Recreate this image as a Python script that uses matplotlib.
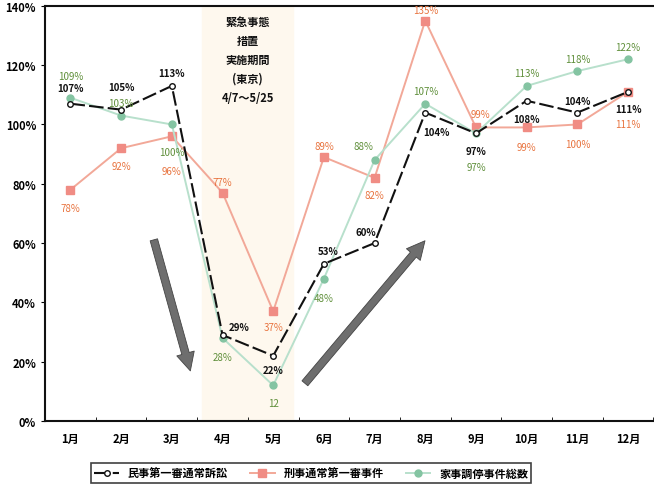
import numpy as np
import matplotlib
matplotlib.use('Agg')
import matplotlib.pyplot as plt
from matplotlib.ticker import MultipleLocator, FuncFormatter

plt.rcParams['font.family'] = ['Noto Sans CJK JP', 'DejaVu Sans']

months = ['1月', '2月', '3月', '4月', '5月', '6月', '7月', '8月', '9月', '10月', '11月', '12月']
civil = [107, 105, 113, 29, 22, 53, 60, 104, 97, 108, 104, 111]
criminal = [78, 92, 96, 77, 37, 89, 82, 135, 99, 99, 100, 111]
family = [109, 103, 100, 28, 12, 48, 88, 107, 97, 113, 118, 122]

civil_name = '民事第一審通常訴訟'
criminal_name = '刑事通常第一審事件'
family_name = '家事調停事件総数'

civil_labels = ['107%', '105%', '113%', '29%', '22%', '53%', '60%', '104%', '97%', '108%', '104%', '111%']
criminal_labels = ['78%', '92%', '96%', '77%', '37%', '89%', '82%', '135%', '99%', '99%', '100%', '111%']
family_labels = ['109%', '103%', '100%', '28%', '12', '48%', '88%', '107%', '97%', '113%', '118%', '122%']

# label offsets in points (dx, dy)
civil_off = [(0, 11), (0, 16), (0, 9), (12, 6), (0, -10), (3, 9), (-6, 8), (8, -14), (0, -13), (0, -13), (0, 8), (0, -12)]
criminal_off = [(0, -13), (0, -13), (0, -25), (0, 8), (0, -11), (0, 8), (0, -12), (0, 8), (3, 10), (0, -14), (0, -14), (0, -23)]
family_off = [(0, 16), (0, 9), (0, -20), (0, -14), (0, -13), (0, -14), (-8, 10), (0, 9), (0, -24), (0, 9), (0, 9), (0, 9)]

black = '#111111'
red_line = '#f2a898'
red_mark = '#f08c84'
red_text = '#e8733e'
green_line = '#b8e0cc'
green_mark = '#84c4a2'
green_text = '#5f8f3a'

fig = plt.figure(figsize=(6.54, 4.89), dpi=100)
ax = fig.add_axes([0.069, 0.137, 0.93, 0.849])

x = np.arange(len(months))

ax.axvspan(2.6, 4.4, color='#fef8ee', zorder=0)

ax.plot(x, criminal, color=red_line, lw=1.4, marker='s', ms=6, mfc=red_mark, mec=red_mark,
        label=criminal_name, zorder=2)
ax.plot(x, family, color=green_line, lw=1.4, marker='o', ms=5, mfc=green_mark, mec=green_mark,
        label=family_name, zorder=3)
ax.plot(x, civil, color=black, lw=1.5, ls=(0, (7, 2)), marker='o', ms=4, mfc='white', mec=black,
        label=civil_name, zorder=4)

for i in range(len(months)):
    ax.annotate(civil_labels[i], (x[i], civil[i]), xytext=civil_off[i], textcoords='offset points',
                ha='center', va='center', fontsize=7, fontweight='bold', color=black, zorder=6)
    ax.annotate(criminal_labels[i], (x[i], criminal[i]), xytext=criminal_off[i], textcoords='offset points',
                ha='center', va='center', fontsize=7, color=red_text, zorder=6)
    ax.annotate(family_labels[i], (x[i], family[i]), xytext=family_off[i], textcoords='offset points',
                ha='center', va='center', fontsize=7, color=green_text, zorder=6)

# trend arrows
arrow_style = dict(arrowstyle='simple,head_width=1.3,head_length=1.3,tail_width=0.55',
                   color='#6e6e6e', ec='#444444', lw=0.6)
ax.annotate('', xy=(2.38, 16), xytext=(1.63, 62), arrowprops=arrow_style, zorder=5)
ax.annotate('', xy=(7.03, 61.5), xytext=(4.59, 12), arrowprops=arrow_style, zorder=5)

ax.text(3.5, 122, '緊急事態\n措置\n実施期間\n(東京)\n4/7～5/25', ha='center', va='center',
        fontsize=8, fontweight='bold', linespacing=1.6, color=black, zorder=6)

ax.set_xlim(-0.5, 11.5)
ax.set_ylim(0, 140)
ax.set_xticks(x)
ax.set_xticklabels(months, fontsize=8, fontweight='bold')
ax.set_xticks(np.arange(-0.5, 12, 1), minor=True)
ax.tick_params(axis='x', which='major', length=0, pad=8)
ax.tick_params(axis='x', which='minor', length=3, direction='in')
ax.yaxis.set_major_locator(MultipleLocator(20))
ax.yaxis.set_major_formatter(FuncFormatter(lambda v, p: '%d%%' % v))
ax.tick_params(axis='y', length=3, labelsize=8)
for lab in ax.get_yticklabels():
    lab.set_fontweight('bold')

ax.spines['right'].set_visible(False)
for s in ['left', 'bottom', 'top']:
    ax.spines[s].set_linewidth(1.5)
    ax.spines[s].set_color(black)

handles, labels = ax.get_legend_handles_labels()
order = [2, 0, 1]
leg = fig.legend([handles[i] for i in order], [labels[i] for i in order], loc='center',
                 bbox_to_anchor=(0.476, 0.03), ncol=3, fontsize=8, frameon=True, fancybox=False,
                 edgecolor=black, handlelength=2.2, columnspacing=2.0, borderpad=0.3)
leg.get_frame().set_linewidth(1.2)
for t in leg.get_texts():
    t.set_fontweight('bold')

fig.savefig('out.png', dpi=100, facecolor='white')
